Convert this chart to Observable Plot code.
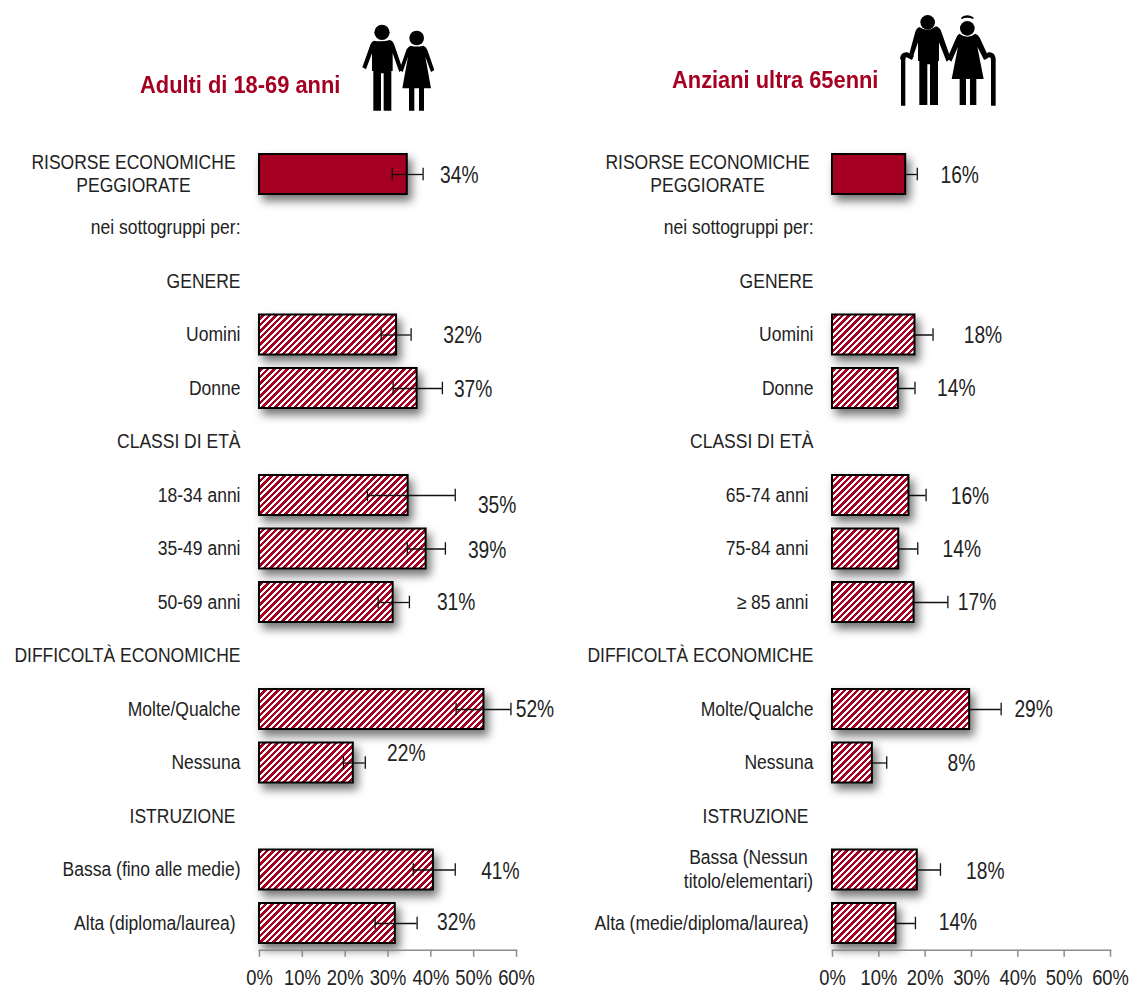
<!DOCTYPE html>
<html><head><meta charset="utf-8">
<script src="https://cdn.jsdelivr.net/npm/d3@7"></script>
<script src="https://cdn.jsdelivr.net/npm/@observablehq/plot@0.6"></script>
<style>
html,body{margin:0;padding:0;background:#fff}
#page{position:relative;width:1132px;height:990px;overflow:hidden;font-family:"Liberation Sans",sans-serif}
#page>div,#page>svg{position:absolute}
.ttl{color:#a50021;font-weight:700;font-size:23px;white-space:nowrap;transform:scaleX(.95);transform-origin:left center}
</style></head><body>
<div id="page">
<div class="ttl" style="left:140px;top:72px">Adulti di 18-69 anni</div>
<div class="ttl" style="left:672px;top:67px">Anziani ultra 65enni</div>
<svg width="1132" height="990" style="left:0;top:0">
 <g transform="translate(350,10) scale(.3333)" fill="#000">
  <circle cx="96" cy="67" r="23"/>
  <path d="M72 92Q96 97 120 90Q128 92 132 102L158 178L148 186L128 130V183H124V302H101V190H93V302H70V183H66V130L48 178L37 172L62 102Q65 94 72 92Z"/>
  <circle cx="200" cy="84" r="22"/>
  <path d="M182 107Q200 112 220 107Q228 110 232 120L253 180L243 186L226 140L243 235H222V302H207V235H193V302H177V235H157L174 140L158 186L148 180L170 118Q174 110 182 107Z"/>
 </g>
 <g transform="translate(890,5) scale(.3333)" fill="#000">
  <circle cx="113" cy="52" r="22"/>
  <path d="M88 66Q113 84 138 64Q150 68 154 80L182 160L170 170L147 112V168H144V300H120V178H112V300H88V168H84V112L70 152L58 146L76 80Q79 70 88 66Z"/>
  <path d="M30 160Q33 140 52 142L72 152L66 165L50 157Q46 156 46 165V302H33V165Z"/>
  <circle cx="232" cy="70" r="22"/>
  <path d="M214 37Q232 25 250 37L250 43Q232 34 214 43Z"/>
  <path d="M208 86Q232 104 256 86Q266 90 270 100L294 152L282 164L262 125L281 222H259V300H240V222H228V300H209V222H185L204 125L184 170L172 160L198 100Q202 90 208 86Z"/>
  <path d="M317 160Q314 140 295 142L278 152L284 165L297 157Q303 156 303 165V302H317V165Z"/>
 </g>
</svg>
</div>
<script>
const ticks = ["0%","10%","20%","30%","40%","50%","60%"];
const tickValues = [0,10,20,30,40,50,60];

const leftRows = ["RISORSE ECONOMICHE\nPEGGIORATE","nei sottogruppi per:","GENERE","Uomini","Donne","CLASSI DI ETÀ","18-34 anni","35-49 anni","50-69 anni","DIFFICOLTÀ ECONOMICHE","Molte/Qualche","Nessuna","ISTRUZIONE","Bassa (fino alle medie)","Alta (diploma/laurea)"];
const leftCats = ["RISORSE ECONOMICHE\nPEGGIORATE","Uomini","Donne","18-34 anni","35-49 anni","50-69 anni","Molte/Qualche","Nessuna","Bassa (fino alle medie)","Alta (diploma/laurea)"];
const leftValues = [34.5,32,36.8,34.7,38.9,31.2,52.4,21.9,40.6,31.7];
const leftLow = [31,28.4,31.2,25.2,34.5,27.7,45.9,19.6,35.9,27];
const leftHigh = [38.2,35.4,42.7,45.7,43.4,35,58.7,24.7,45.7,36.8];
const leftText = ["34%","32%","37%","35%","39%","31%","52%","22%","41%","32%"];

const rightRows = ["RISORSE ECONOMICHE\nPEGGIORATE","nei sottogruppi per:","GENERE","Uomini","Donne","CLASSI DI ETÀ","65-74 anni","75-84 anni","≥ 85 anni","DIFFICOLTÀ ECONOMICHE","Molte/Qualche","Nessuna","ISTRUZIONE","Bassa (Nessun\ntitolo/elementari)","Alta (medie/diploma/laurea)"];
const rightCats = ["RISORSE ECONOMICHE\nPEGGIORATE","Uomini","Donne","65-74 anni","75-84 anni","≥ 85 anni","Molte/Qualche","Nessuna","Bassa (Nessun\ntitolo/elementari)","Alta (medie/diploma/laurea)"];
const rightValues = [15.8,17.8,14.2,16.5,14.3,17.6,29.6,8.6,18.3,13.7];
const rightLow = [13.5,14,11,13,10.5,11.5,23,6,14,10];
const rightHigh = [18.3,21.7,17.8,20.2,18.4,24.9,36.4,11.7,23.3,17.9];
const rightText = ["16%","18%","14%","16%","14%","17%","29%","8%","18%","14%"];

// Layout only: label nudges in pixels
const leftLabelDx = [52,66,56,89,61,63,51,53,67,61];
const leftLabelDy = [1,0,1,10,1,0,0,-10,1,-1];
const rightLabelDx = [54,68,58,61,63,63,64,89,68,62];
const rightLabelDy = [1,0,0,1,0,0,0,0,1,-1];
const leftRowDx = [-126,-19,-19,-19,-19,-19,-19,-19,-19,-19,-19,-19,-24,-19,-24];
const rightRowDx = [-125,-19,-19,-19,-19,-19,-24,-24,-24,-19,-19,-19,-24,-84,-24];

const RED = "#a50021", FONT = '"Liberation Sans",Arial,sans-serif';
const SHADOW = "drop-shadow(4px 6px 5px rgba(0,0,0,.55))";

function squeeze(nodes, sx) {
  nodes.forEach(t => {
    const x = +t.getAttribute("x") || 0;
    t.removeAttribute("x");
    t.setAttribute("transform", `${t.getAttribute("transform") || ""} translate(${x},0) scale(${sx},1)`);
  });
}

function panel({id, left, width, marginLeft, marginRight, rows, cats, values, low, high, text, labelDx, labelDy, rowDx, errorsOnTop}) {
  const data = cats.map((c,i)=>({c, v:values[i], lo:low[i], hi:high[i], t:text[i], dx:labelDx[i], dy:labelDy[i]}));
  const defs = () => {
    const d = d3.create("svg:defs");
    const p = d.append("pattern").attr("id",id).attr("patternUnits","userSpaceOnUse").attr("width",13).attr("height",13);
    p.append("rect").attr("width",13).attr("height",13).attr("fill","#fff");
    p.append("path").attr("d","M-2 2L2-2M-2 8.5L8.5-2M-2 15L15-2M4.5 15L15 4.5M11 15L15 11")
      .attr("stroke",RED).attr("stroke-width",2.6).attr("shape-rendering","crispEdges");
    return d.node();
  };
  const errors = [
    Plot.ruleY(data,{x1:"lo",x2:"hi",y:"c",stroke:"#111",strokeWidth:1.3}),
    Plot.tickX(data,{x:"lo",y:"c",stroke:"#111",strokeWidth:1.3,insetTop:20.5,insetBottom:20.5}),
    Plot.tickX(data,{x:"hi",y:"c",stroke:"#111",strokeWidth:1.3,insetTop:20.5,insetBottom:20.5})
  ];
  const bars = [
    Plot.barX(data.slice(0,1),{x1:0,x2:"v",y:"c",fill:RED,stroke:"#000",strokeWidth:2,insetTop:6.75,insetBottom:6.75,imageFilter:SHADOW}),
    Plot.barX(data.slice(1),{x1:0,x2:"v",y:"c",fill:`url(#${id})`,stroke:"#000",strokeWidth:2,insetTop:6.75,insetBottom:6.75,imageFilter:SHADOW})
  ];
  const chart = Plot.plot({
    width, height:990, marginLeft, marginRight, marginTop:147.25, marginBottom:40.25,
    style:{fontFamily:FONT, background:"transparent", overflow:"visible"},
    x:{domain:[0,60], axis:null},
    y:{domain:rows, axis:null, padding:0, round:false},
    marks:[
      defs,
      ...(errorsOnTop ? [...bars, ...errors] : [...errors, ...bars]),
      ...rows.map((r,i)=>Plot.text([r],{x:()=>0,y:d=>d,text:d=>d,dx:rowDx[i],dy:-1.5,
        textAnchor:(i===0 || r.includes("\n")) ? "middle" : "end",lineHeight:1.17,fontSize:20,fill:"#222",className:"rowlab"})),
      ...data.map(d=>Plot.text([d],{x:"v",y:"c",text:"t",dx:d.dx,dy:d.dy,fontSize:24,fill:"#222",className:"vallab"})),
      Plot.frame({anchor:"bottom",stroke:"#8c8c8c",strokeWidth:1.5}),
      Plot.axisX({ticks:tickValues,tickFormat:(d,i)=>ticks[i],tickSize:7,tickPadding:12.5,stroke:"#8c8c8c",fill:"#222",fontSize:22,label:null,strokeWidth:1.5,textStroke:"none",className:"ticklab"})
    ]
  });
  squeeze(chart.querySelectorAll(".rowlab text, text.rowlab"), .875);
  squeeze(chart.querySelectorAll(".vallab text, text.vallab"), .8);
  squeeze(chart.querySelectorAll(".ticklab text, text.ticklab"), .835);
  chart.style.position="absolute"; chart.style.left=left+"px"; chart.style.top="0";
  return chart;
}
const page = document.getElementById("page");
page.append(panel({id:"hatchL",left:0,width:560,marginLeft:259,marginRight:44,rows:leftRows,cats:leftCats,values:leftValues,low:leftLow,high:leftHigh,text:leftText,labelDx:leftLabelDx,labelDy:leftLabelDy,rowDx:leftRowDx,errorsOnTop:true}));
page.append(panel({id:"hatchR",left:560,width:572,marginLeft:272,marginRight:22,rows:rightRows,cats:rightCats,values:rightValues,low:rightLow,high:rightHigh,text:rightText,labelDx:rightLabelDx,labelDy:rightLabelDy,rowDx:rightRowDx,errorsOnTop:false}));
</script>
</body></html>
